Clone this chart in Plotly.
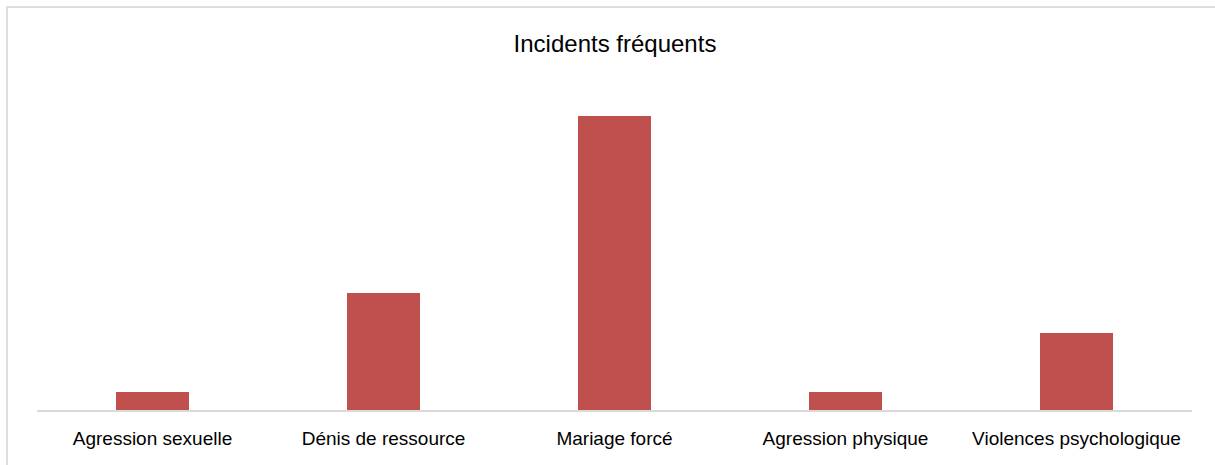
import plotly.graph_objects as go

categories = ["Agression sexuelle", "Dénis de ressource", "Mariage forcé",
              "Agression physique", "Violences psychologique"]
values = [18, 117, 294, 18, 77]

W, H = 1215, 465
ml, mr, mt, mb = 37, 23, 100, 55
plot_w = W - ml - mr
plot_h = H - mt - mb

fig = go.Figure(go.Bar(
    x=categories, y=values,
    marker=dict(color="#C0504D", line=dict(width=0)),
    width=0.316,
))

fig.update_layout(
    width=W, height=H,
    margin=dict(l=ml, r=mr, t=mt, b=mb),
    paper_bgcolor="white", plot_bgcolor="white",
    font=dict(family="Liberation Sans, Arial, sans-serif", color="#000000"),
    title=dict(text="Incidents fréquents", x=615 / W, xanchor="center",
               y=1 - 44 / H, yanchor="middle",
               font=dict(size=24, color="#000000")),
    showlegend=False,
    xaxis=dict(showline=True, linecolor="#d9d9d9", linewidth=2,
               showgrid=False, ticks="", ticklabelstandoff=10,
               tickfont=dict(size=19, color="#000000")),
    yaxis=dict(visible=False, range=[0, plot_h], showgrid=False, zeroline=False),
)

# light frame around the chart area
fig.add_shape(type="rect", xref="paper", yref="paper",
              x0=(7 - ml) / plot_w, x1=(W + 10 - ml) / plot_w,
              y0=-(H + 10 - (H - mb)) / plot_h, y1=(H - mb - 7) / plot_h,
              line=dict(color="#dedede", width=2), fillcolor="rgba(0,0,0,0)",
              layer="below")

fig.write_html("out.html")
